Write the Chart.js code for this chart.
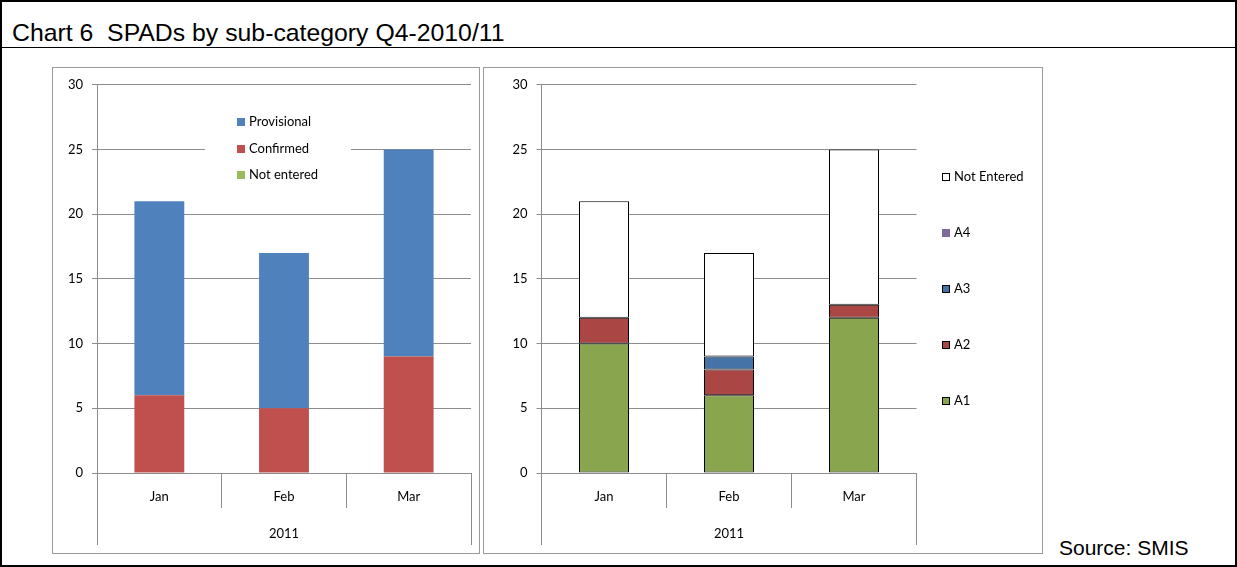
<!DOCTYPE html>
<html>
<head>
<meta charset="utf-8">
<script src="https://cdn.jsdelivr.net/npm/chart.js@4.4.0/dist/chart.umd.min.js"></script>
<style>
  html, body { margin:0; padding:0; background:#fff; }
  #pagina { position:relative; width:1237px; height:567px; box-sizing:border-box; border:2px solid #000; overflow:hidden; font-family:"Liberation Sans", Arial, sans-serif; color:#000; }
  #titulo { position:absolute; left:10px; top:18px; font-size:24.8px; line-height:25px; white-space:nowrap; }
  #linha { position:absolute; left:0; right:0; top:45px; border-top:1px solid #000; }
  .painel { position:absolute; top:65px; height:487px; box-sizing:border-box; border:1px solid #9a9a9a; background:#fff; }
  #painel1 { left:50px; width:428px; }
  #painel2 { left:481px; width:560px; }
  .painel canvas { display:block; }
  #fonte { position:absolute; left:1057px; top:535px; font-size:21px; line-height:21px; white-space:nowrap; }
</style>
</head>
<body>
<div id="pagina">
  <div id="titulo">Chart 6&nbsp; SPADs by sub-category Q4-2010/11</div>
  <div id="linha"></div>
  <div class="painel" id="painel1"><canvas id="situacao" width="426" height="485"></canvas></div>
  <div class="painel" id="painel2"><canvas id="subcategoria" width="558" height="485"></canvas></div>
  <div id="fonte">Source: SMIS</div>
</div>

<script>
// dados
var meses = ["Jan", "Feb", "Mar"]
var ano = "2011"
var ticksY = [0, 5, 10, 15, 20, 25, 30]

var provisional = [15, 12, 16]
var confirmed = [6, 5, 9]
var notEnteredSit = [0, 0, 0]

var a1 = [10, 6, 12]
var a2 = [2, 2, 1]
var a3 = [0, 1, 0]
var a4 = [0, 0, 0]
var notEnteredSub = [9, 8, 12]

var corGrade = "#8c8c8c"

// -------------------------------------------
//  EIXO X EM DOIS NÍVEIS (mês / ano)
// -------------------------------------------

const PluginEixo = {
    id: "eixoDuplo",
    afterDraw: function(chart, args, opts) {
        var ctx = chart.ctx
        var a = chart.chartArea
        var x = chart.scales.x
        var n = chart.data.labels.length
        ctx.save()
        ctx.strokeStyle = corGrade
        ctx.lineWidth = 1
        ctx.beginPath()
        // divisões entre os meses
        for (var i=1; i<n; i++) {
            var px = Math.floor((x.getPixelForValue(i-1) + x.getPixelForValue(i)) / 2) + 0.5
            ctx.moveTo(px, a.bottom)
            ctx.lineTo(px, a.bottom + opts.corte)
        }
        // bordas que descem até a linha do ano
        var bordas = [a.left, a.right]
        for (var j=0; j<bordas.length; j++) {
            var bx = Math.floor(bordas[j]) + 0.5
            ctx.moveTo(bx, a.bottom)
            ctx.lineTo(bx, a.bottom + opts.fundo)
        }
        ctx.stroke()
        ctx.fillStyle = "#000"
        ctx.font = "13px Lato"
        ctx.textAlign = "center"
        ctx.textBaseline = "middle"
        ctx.fillText(opts.ano, (a.left + a.right) / 2, a.bottom + opts.anoY)
        ctx.restore()
    }
}

// -------------------------------------------
//  LEGENDA POSICIONADA
// -------------------------------------------

const PluginLegenda = {
    id: "legendaFixa",
    beforeDatasetsDraw: function(chart, args, opts) {
        var ctx = chart.ctx
        if (opts.caixa) {
            ctx.save()
            ctx.fillStyle = "#fff"
            ctx.fillRect(opts.caixa[0], opts.caixa[1], opts.caixa[2], opts.caixa[3])
            ctx.restore()
        }
    },
    afterDatasetsDraw: function(chart, args, opts) {
        var ctx = chart.ctx
        var ds = chart.data.datasets
        ctx.save()
        ctx.font = "13px Lato"
        ctx.textBaseline = "middle"
        ctx.textAlign = "left"
        for (var i=0; i<opts.ordem.length; i++) {
            var d = null
            for (var k=0; k<ds.length; k++) if (ds[k].label === opts.ordem[i]) d = ds[k]
            if (!d) continue
            var cy = opts.y + i * opts.passo
            var q = 8
            ctx.fillStyle = d.backgroundColor
            ctx.fillRect(opts.x, Math.round(cy - q/2), q, q)
            if (d.borderWidth) {
                ctx.strokeStyle = d.borderColor
                ctx.lineWidth = 1
                ctx.strokeRect(opts.x + 0.5, Math.round(cy - q/2) + 0.5, q - 1, q - 1)
            }
            ctx.fillStyle = "#000"
            ctx.fillText(d.label, opts.x + 12, cy)
        }
        ctx.restore()
    }
}

// -------------------------------------------
//  MONTAGEM DOS GRÁFICOS
// -------------------------------------------

const ModGraficos = (function() {

    function escalas(larguraY) {
        return {
            x: {
                stacked: true,
                grid: { display: false, drawTicks: false },
                border: { display: true, color: corGrade },
                ticks: { color: "#000", padding: 16, font: { size: 13 } },
                afterFit: function(s) { s.height = 80 }
            },
            y: {
                stacked: true,
                min: ticksY[0],
                max: ticksY[ticksY.length - 1],
                grid: { color: corGrade, tickLength: 5 },
                border: { display: true, color: corGrade },
                ticks: { stepSize: ticksY[1] - ticksY[0], color: "#000", padding: 9, font: { size: 13 } },
                afterFit: function(s) { s.width = larguraY }
            }
        }
    }

    function barra(label, dados, cor, borda) {
        return {
            label: label,
            data: dados,
            backgroundColor: cor,
            borderColor: "#000",
            borderWidth: borda,
            borderSkipped: false,
            barPercentage: 0.4,
            categoryPercentage: 1
        }
    }

    function init() {
        Chart.defaults.font.family = "Lato"
        Chart.defaults.font.size = 13
        Chart.defaults.color = "#000"

        new Chart(document.getElementById("situacao"), {
            type: "bar",
            data: {
                labels: meses,
                datasets: [
                    barra("Confirmed", confirmed, "#C0504D", 0),
                    barra("Provisional", provisional, "#4F81BD", 0),
                    barra("Not entered", notEnteredSit, "#9BBB59", 0)
                ]
            },
            options: {
                responsive: false,
                animation: false,
                layout: { padding: { top: 15, right: 8, left: 0, bottom: 0 } },
                scales: escalas(44),
                plugins: {
                    legend: { display: false },
                    tooltip: { enabled: false },
                    eixoDuplo: { corte: 35, fundo: 72, anoY: 61, ano: ano },
                    legendaFixa: { ordem: ["Provisional", "Confirmed", "Not entered"], x: 184, y: 54, passo: 26.5, caixa: [152, 40, 146, 80] }
                }
            },
            plugins: [PluginEixo, PluginLegenda]
        })

        // meio pixel à esquerda para as bordas pretas das barras caírem inteiras
        new Chart(document.getElementById("subcategoria"), {
            type: "bar",
            data: {
                labels: meses,
                datasets: [
                    barra("A1", a1, "#89A54E", 1),
                    barra("A2", a2, "#AA4643", 1),
                    barra("A3", a3, "#4572A7", 1),
                    barra("A4", a4, "#80699B", 0),
                    barra("Not Entered", notEnteredSub, "#FFFFFF", 1)
                ]
            },
            options: {
                responsive: false,
                animation: false,
                layout: { padding: { top: 15, right: 125.5, left: 0.5, bottom: 0 } },
                scales: escalas(57),
                plugins: {
                    legend: { display: false },
                    tooltip: { enabled: false },
                    eixoDuplo: { corte: 35, fundo: 72, anoY: 61, ano: ano },
                    legendaFixa: { ordem: ["Not Entered", "A4", "A3", "A2", "A1"], x: 458, y: 109, passo: 56 }
                }
            },
            plugins: [PluginEixo, PluginLegenda]
        })
    }

    return { init: init }

})()

ModGraficos.init()
</script>
</body>
</html>
